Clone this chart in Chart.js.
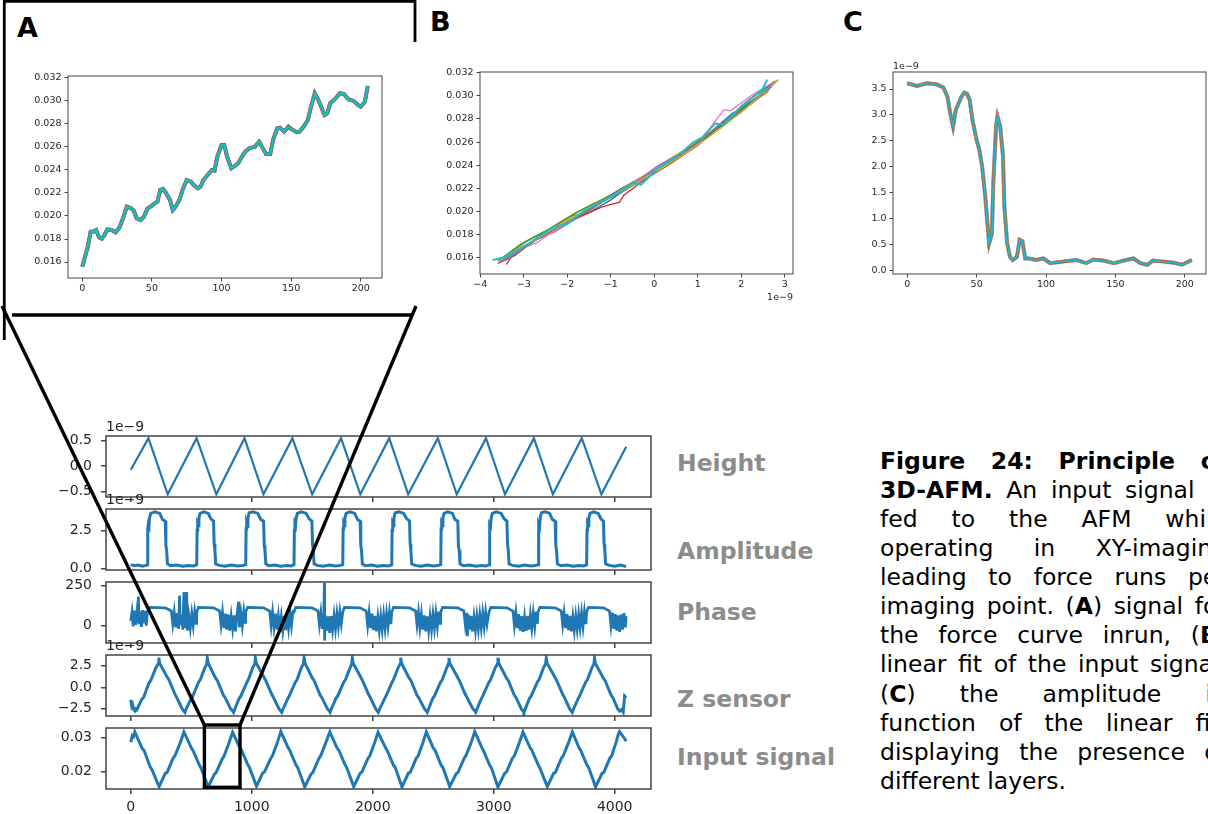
<!DOCTYPE html>
<html>
<head>
<meta charset="utf-8">
<script src="https://cdn.jsdelivr.net/npm/chart.js@4.4.1/dist/chart.umd.min.js"></script>
<style>
  body { margin: 0; background: #fff; }
  #page { position: relative; width: 1208px; height: 814px; overflow: hidden; font-family: "DejaVu Sans", sans-serif; }
  canvas { position: absolute; }
  .panel { position: absolute; font-weight: bold; font-size: 27px; line-height: 32px; color: #000; }
  .sig { position: absolute; left: 677px; font-weight: bold; font-size: 23.5px; line-height: 29px; color: #8c8c8c; white-space: nowrap; }
  .cap { position: absolute; left: 880px; top: 446.8px; font-size: 23.5px; line-height: 29.1px; color: #000; }
  .cap div { display: flex; justify-content: space-between; width: 347px; height: 29.1px; white-space: nowrap; }
  .cap div.last { display: block; }
  #lines { position: absolute; left: 0; top: 0; z-index: 10; }
</style>
</head>
<body>
<div id="page">
  <div class="panel" style="left:17px;top:11.6px">A</div>
  <div class="panel" style="left:430px;top:6.1px">B</div>
  <div class="panel" style="left:843px;top:6.1px">C</div>

  <div class="sig" style="top:448.9px">Height</div>
  <div class="sig" style="top:536.9px">Amplitude</div>
  <div class="sig" style="top:597.9px">Phase</div>
  <div class="sig" style="top:684.9px">Z sensor</div>
  <div class="sig" style="top:743.4px">Input signal</div>

  <div class="cap">
    <div style="font-weight:bold"><span>Figure</span><span>24:</span><span>Principle</span><span>of</span></div>
    <div><span><b>3D-AFM.</b></span><span>An</span><span>input</span><span>signal</span><span>is</span></div>
    <div><span>fed</span><span>to</span><span>the</span><span>AFM</span><span>while</span></div>
    <div><span>operating</span><span>in</span><span>XY-imaging</span></div>
    <div><span>leading</span><span>to</span><span>force</span><span>runs</span><span>per</span></div>
    <div><span>imaging</span><span>point.</span><span>(<b>A</b>)</span><span>signal</span><span>for</span></div>
    <div><span>the</span><span>force</span><span>curve</span><span>inrun,</span><span>(<b>B</b>)</span></div>
    <div><span>linear</span><span>fit</span><span>of</span><span>the</span><span>input</span><span>signal,</span></div>
    <div><span>(<b>C</b>)</span><span>the</span><span>amplitude</span><span>in</span></div>
    <div><span>function</span><span>of</span><span>the</span><span>linear</span><span>fit,</span></div>
    <div><span>displaying</span><span>the</span><span>presence</span><span>of</span></div>
    <div class="last">different layers.</div>
  </div>

  <svg id="lines" width="1208" height="814">
    <g stroke="#000" fill="none">
      <polyline points="4.3,340 4.3,1.3 415,1.3 415,42" stroke-width="2.8"/>
      <line x1="12" y1="315" x2="413" y2="315" stroke-width="3.3"/>
      <line x1="2" y1="306" x2="204.4" y2="725" stroke-width="3.4"/>
      <line x1="416" y1="306" x2="240" y2="725" stroke-width="3.4"/>
      <rect x="204.4" y="725" width="35.6" height="62.3" stroke-width="3.4"/>
    </g>
  </svg>
</div>

<script>
const FONT = "DejaVu Sans";
const INK = "#262626";
const SPINE = "#444";
const C0 = "#1f77b4";

// (A) input signal during one force-curve inrun: [sample, signal]
const runA = [[0,0.0156],[2,0.01646],[4,0.01733],[6,0.01864],[8,0.01864],[10,0.01878],[12,0.01815],[14,0.01803],
  [16,0.01835],[18,0.01884],[21,0.01878],[24,0.01858],[27,0.01907],[29,0.01971],[32,0.02081],[35,0.02067],
  [37,0.02046],[39,0.0198],[42,0.01965],[44,0.01989],[47,0.02067],[49,0.02081],[52,0.0211],[54,0.02124],
  [56,0.02226],[58,0.02235],[60,0.02203],[63,0.02139],[65,0.02052],[67,0.02081],[70,0.02145],[72,0.02226],
  [75,0.02313],[78,0.02298],[80,0.0227],[83,0.02241],[85,0.02255],[87,0.02313],[90,0.02357],[93,0.024],
  [95,0.02394],[97,0.02516],[100,0.02617],[102,0.02617],[104,0.02516],[107,0.02415],[109,0.02429],[112,0.02458],
  [114,0.02502],[117,0.02559],[120,0.02589],[124,0.02603],[127,0.02646],[129,0.02603],[132,0.02539],[135,0.02539],
  [137,0.02661],[140,0.02762],[142,0.02768],[145,0.02733],[148,0.02777],[150,0.02757],[154,0.02728],[156,0.02733],
  [159,0.02777],[162,0.02835],[164,0.02937],[167,0.03067],[169,0.03023],[172,0.02937],[174,0.02878],[176,0.02893],
  [178,0.0298],[182,0.03023],[185,0.03067],[188,0.0306],[191,0.03015],[195,0.03],[198,0.02965],[200,0.0295],
  [203,0.02994],[205,0.0313]];

// (B) input signal vs linear fit (x in 1e-9), one array per run
const fitRuns = [
  [[-3.55,0.0156],[-3.0,0.0173],[-2.4,0.0185],[-1.9,0.0196],[-1.5,0.0199],[-1.0,0.021],[-0.4,0.0226],[0.2,0.0241],[0.7,0.0252],[1.2,0.0266],[1.8,0.0285],[2.3,0.0296],[2.7,0.031]],
  [[-3.5,0.0158],[-2.9,0.0175],[-2.2,0.0189],[-1.6,0.0203],[-0.9,0.0216],[-0.3,0.0229],[0.3,0.0244],[0.9,0.0258],[1.5,0.0274],[2.1,0.0291],[2.6,0.0303],[2.75,0.0313]],
  [[-3.6,0.0157],[-3.1,0.0171],[-2.5,0.0183],[-1.8,0.0199],[-1.2,0.021],[-0.6,0.0223],[0.0,0.0236],[0.6,0.0249],[1.1,0.0263],[1.7,0.028],[2.2,0.0294],[2.85,0.0314]],
  [[-3.6,0.0155],[-3.2,0.0162],[-2.6,0.018],[-1.9,0.0192],[-1.2,0.0204],[-0.8,0.0208],[-0.7,0.0214],[-0.2,0.0228],[0.4,0.0242],[1.0,0.0257],[1.6,0.0277],[2.2,0.0297],[2.75,0.0312]],
  [[-3.5,0.0157],[-2.8,0.0174],[-2.3,0.0182],[-1.7,0.0196],[-1.0,0.0213],[-0.5,0.0224],[0.1,0.024],[0.8,0.0254],[1.3,0.0268],[1.9,0.0283],[2.4,0.0298],[2.8,0.0312]],
  [[-3.4,0.0154],[-3.3,0.016],[-2.7,0.0176],[-2.1,0.0188],[-1.4,0.0203],[-0.8,0.0219],[-0.1,0.0233],[0.5,0.0246],[1.1,0.0262],[1.7,0.0278],[2.2,0.0293],[2.7,0.0308]],
  [[-3.3,0.0164],[-2.7,0.0173],[-2.0,0.0191],[-1.3,0.0206],[-0.5,0.0225],[0.3,0.0243],[1.0,0.0258],[1.6,0.0288],[1.75,0.0287],[2.3,0.0302],[2.8,0.0313]],
  [[-3.4,0.0158],[-2.5,0.0181],[-1.5,0.0202],[-0.6,0.022],[0.3,0.024],[1.2,0.0265],[2.0,0.029],[2.6,0.0305]],
  [[-3.5,0.0159],[-2.9,0.0172],[-2.1,0.019],[-1.4,0.0205],[-0.7,0.0219],[0.1,0.0236],[0.8,0.0252],[1.5,0.0271],[2.1,0.0289],[2.6,0.0306],[2.85,0.0314]],
  [[-3.72,0.0158],[-3.4,0.0161],[-2.9,0.0172],[-2.3,0.0187],[-2.0,0.0189],[-1.6,0.0201],[-1.2,0.0209],[-0.8,0.0217],[-0.5,0.0225],[-0.3,0.0223],[0.1,0.0238],[0.5,0.0247],[0.9,0.026],[1.1,0.0264],[1.4,0.0276],[1.6,0.0275],[2.0,0.0291],[2.3,0.03],[2.5,0.0306],[2.6,0.0314],[2.45,0.0303],[2.7,0.0308]]
];
const fitColors = ["#1f77b4","#ff7f0e","#2ca02c","#d62728","#9467bd","#8c564b","#e377c2","#7f7f7f","#bcbd22","#17becf"];

// (C) amplitude (1e-9) vs sample of the inrun
const ampC = [[0,3.61],[7,3.56],[14,3.61],[21,3.59],[26,3.53],[29,3.35],[31,3.03],[33,2.78],[35,3.1],[37,3.22],
  [39,3.35],[41,3.43],[43,3.41],[45,3.29],[47,2.9],[50,2.52],[52,2.33],[54,2.0],[56,1.49],[58,0.85],[59,0.53],
  [61,0.72],[62,1.69],[64,2.78],[65,2.97],[67,2.78],[69,2.2],[70,1.24],[72,0.53],[74,0.27],[76,0.21],[79,0.27],
  [81,0.6],[83,0.57],[85,0.24],[88,0.24],[93,0.21],[98,0.24],[103,0.15],[112,0.18],[122,0.21],[129,0.15],
  [134,0.22],[141,0.2],[149,0.15],[156,0.2],[163,0.24],[168,0.15],[173,0.12],[177,0.2],[185,0.18],[192,0.16],
  [198,0.12],[205,0.21]];

// bottom stack, x = sample index 0..4095
const height = [[0,-0.07],[146,0.55],[305,-0.55],[544,0.55],[707,-0.55],[940,0.55],[1097,-0.55],[1336,0.55],
  [1499,-0.55],[1738,0.55],[1897,-0.55],[2136,0.55],[2293,-0.55],[2538,0.55],[2694,-0.55],[2936,0.55],
  [3093,-0.55],[3332,0.55],[3489,-0.55],[3728,0.55],[3890,-0.55],[4095,0.38]];

const amplitude = [[0,0.25],[30,0.18],[60,0.22],[95,0.15],[125,0.2],
  [137,0.25],[140,2.6],[145,2.9],[150,2.8],[155,3.3],[165,3.6],[200,3.7],[240,3.6],[262,3.2],[285,3.1],[290,1.5],[296,1.2],[303,0.3],
  [330,0.18],[380,0.22],[430,0.15],[480,0.2],[520,0.17],
  [545,0.25],[548,2.5],[553,2.9],[558,2.8],[563,3.3],[573,3.6],[605,3.7],[640,3.6],[662,3.25],[684,3.1],[689,1.6],[695,1.2],[702,0.3],
  [730,0.2],[780,0.15],[830,0.22],[880,0.17],[925,0.2],
  [950,0.25],[953,2.6],[958,2.9],[963,2.75],[968,3.3],[978,3.65],[1010,3.7],[1050,3.6],[1075,3.2],[1098,3.1],[1103,1.5],[1109,1.2],[1116,0.3],
  [1140,0.18],[1190,0.22],[1240,0.15],[1290,0.2],[1325,0.17],
  [1349,0.25],[1352,2.5],[1357,2.9],[1362,2.8],[1367,3.3],[1377,3.6],[1410,3.7],[1450,3.6],[1474,3.25],[1497,3.1],[1502,1.6],[1508,1.2],[1515,0.3],
  [1540,0.2],[1590,0.15],[1640,0.22],[1690,0.17],[1728,0.2],
  [1752,0.25],[1755,2.6],[1760,2.9],[1765,2.8],[1770,3.3],[1780,3.6],[1812,3.7],[1850,3.6],[1874,3.2],[1896,3.1],[1901,1.5],[1907,1.2],[1914,0.3],
  [1940,0.18],[1990,0.22],[2040,0.15],[2090,0.2],[2133,0.17],
  [2157,0.25],[2160,2.5],[2165,2.9],[2170,2.8],[2175,3.3],[2185,3.65],[2218,3.7],[2256,3.6],[2281,3.25],[2304,3.1],[2309,1.6],[2315,1.2],[2322,0.3],
  [2350,0.2],[2400,0.15],[2450,0.22],[2500,0.17],[2538,0.2],
  [2562,0.25],[2565,2.6],[2570,2.9],[2575,2.8],[2580,3.3],[2590,3.6],[2620,3.7],[2658,3.6],[2680,3.2],[2703,3.1],[2708,1.5],[2714,1.2],[2721,0.3],
  [2750,0.18],[2800,0.22],[2850,0.15],[2900,0.2],[2937,0.17],
  [2961,0.25],[2964,2.5],[2969,2.9],[2974,2.8],[2979,3.3],[2989,3.6],[3022,3.7],[3062,3.6],[3086,3.25],[3109,3.1],[3114,1.6],[3120,1.2],[3127,0.3],
  [3155,0.2],[3205,0.15],[3255,0.22],[3305,0.17],[3342,0.2],
  [3366,0.25],[3369,2.6],[3374,2.9],[3379,2.75],[3384,3.3],[3394,3.65],[3425,3.7],[3462,3.6],[3485,3.2],[3508,3.1],[3513,1.5],[3519,1.2],[3526,0.3],
  [3555,0.18],[3605,0.22],[3655,0.15],[3705,0.2],[3744,0.17],
  [3768,0.25],[3771,2.5],[3776,2.9],[3781,2.8],[3786,3.3],[3796,3.6],[3826,3.7],[3864,3.6],[3886,3.25],[3907,3.1],[3912,1.6],[3918,1.2],[3925,0.3],
  [3955,0.2],[4000,0.15],[4050,0.22],[4095,0.12]];

const phase = [[0,30],[10,85],[20,-5],[30,95],[40,5],[50,80],[58,20],[63,182],[68,10],[78,90],[88,-8],[98,98],[108,15],[118,92],[128,0],[137,85],
  [152,115],[285,112],[335,92],
  [347,10],[359,85],[371,-10],[383,78],[395,-20],[403,188],[410,5],[420,70],[430,-25],[439,210],[445,-15],[452,65],[462,210],[468,-30],[480,60],[492,-15],[504,75],[516,0],[528,88],[540,15],[545,85],
  [560,115],[684,112],[734,92],
  [746,5],[758,85],[770,-15],[782,75],[794,-25],[806,70],[818,-30],[830,60],[842,-20],[854,65],[866,-35],[878,70],[891,150],[898,-10],[910,80],[922,0],[934,90],[945,20],[950,85],
  [965,115],[1098,112],[1148,92],
  [1160,0],[1172,85],[1184,-10],[1196,75],[1208,-25],[1220,60],[1232,-35],[1244,55],[1256,-30],[1268,62],[1280,-28],[1292,70],[1304,-15],[1316,80],[1328,0],[1340,88],[1349,85],
  [1364,115],[1497,112],[1547,92],
  [1559,5],[1571,80],[1583,-20],[1595,70],[1600,266],[1602,-93],[1608,65],[1620,-30],[1632,58],[1644,-45],[1656,60],[1668,-25],[1680,65],[1692,-20],[1704,75],[1716,-5],[1728,85],[1740,10],[1752,85],
  [1767,115],[1896,112],[1946,92],
  [1958,0],[1970,82],[1982,-15],[1994,75],[2006,-28],[2018,62],[2030,-35],[2042,55],[2054,-30],[2066,60],[2078,-25],[2090,68],[2102,-18],[2114,75],[2126,-5],[2138,85],[2150,10],[2157,85],
  [2172,115],[2304,112],[2354,92],
  [2366,5],[2378,85],[2390,-12],[2402,72],[2414,-25],[2426,65],[2438,-35],[2450,58],[2462,-30],[2474,60],[2486,-25],[2498,70],[2510,-15],[2522,78],[2534,-5],[2546,88],[2556,15],[2562,85],
  [2577,115],[2703,112],[2753,92],
  [2765,5],[2777,80],[2783,-66],[2789,70],[2801,-25],[2813,62],[2825,-35],[2837,55],[2849,-30],[2861,60],[2873,-22],[2885,68],[2897,-15],[2909,78],[2921,-5],[2933,85],[2945,10],[2961,85],
  [2976,115],[3109,112],[3159,92],
  [3171,0],[3183,82],[3195,-15],[3207,72],[3219,-30],[3231,60],[3243,-38],[3255,55],[3267,-32],[3279,62],[3291,-25],[3303,70],[3315,-15],[3327,78],[3339,-5],[3351,88],[3361,12],[3366,85],
  [3381,115],[3508,112],[3558,92],
  [3570,5],[3582,80],[3594,-15],[3606,72],[3618,-28],[3630,62],[3642,-35],[3654,55],[3666,-30],[3678,60],[3690,-22],[3702,70],[3714,-12],[3726,80],[3738,-5],[3750,88],[3762,10],[3768,85],
  [3783,115],[3907,112],[3957,92],
  [3969,0],[3981,82],[3993,-20],[4005,72],[4017,-30],[4029,65],[4041,-38],[4053,70],[4065,-25],[4077,78],[4089,-10],[4095,60]];

const zSensor = [[0,-1.45],[8,-2.2],[15,-2.0],[25,-2.6],[33,-2.75],[42,-2.5],[50,-2.6],
  [90,-1.4],[105,-1.2],[150,0.5],[165,0.8],[205,2.2],[225,2.7],[232,3.45],[238,2.8],
  [300,1.2],[315,0.9],[365,-0.8],[380,-1.2],[425,-2.5],[439,-2.75],[447,-2.9],[455,-2.6],
  [495,-1.4],[510,-1.1],[560,0.6],[575,0.9],[610,2.2],[628,2.7],[632,3.4],[640,2.8],
  [700,1.1],[715,0.8],[765,-0.9],[780,-1.2],[825,-2.5],[841,-2.7],[850,-2.9],[858,-2.6],
  [895,-1.3],[910,-1.0],[960,0.6],[975,1.0],[1008,2.3],[1025,2.7],[1030,3.4],[1037,2.8],
  [1100,1.2],[1115,0.8],[1165,-0.8],[1180,-1.2],[1225,-2.5],[1240,-2.75],[1248,-2.9],[1256,-2.6],
  [1295,-1.4],[1310,-1.0],[1360,0.6],[1375,0.9],[1410,2.3],[1427,2.7],[1432,3.45],[1440,2.8],
  [1500,1.1],[1515,0.8],[1565,-0.9],[1580,-1.2],[1625,-2.5],[1639,-2.7],[1647,-2.9],[1655,-2.6],
  [1695,-1.3],[1710,-1.0],[1760,0.6],[1775,0.9],[1810,2.2],[1826,2.7],[1831,3.4],[1838,2.8],
  [1900,1.2],[1915,0.8],[1965,-0.8],[1980,-1.2],[2025,-2.5],[2038,-2.75],[2046,-2.9],[2054,-2.6],
  [2095,-1.4],[2110,-1.0],[2160,0.6],[2175,1.0],[2210,2.3],[2226,2.7],[2231,3.45],[2238,2.8],
  [2300,1.1],[2315,0.8],[2365,-0.9],[2380,-1.2],[2428,-2.5],[2443,-2.75],[2451,-2.9],[2459,-2.6],
  [2495,-1.3],[2510,-1.0],[2560,0.6],[2575,0.9],[2610,2.2],[2625,2.7],[2630,3.4],[2637,2.8],
  [2700,1.2],[2715,0.8],[2765,-0.8],[2780,-1.2],[2828,-2.5],[2843,-2.7],[2851,-2.9],[2859,-2.6],
  [2895,-1.4],[2910,-1.0],[2960,0.6],[2975,0.9],[3013,2.3],[3030,2.7],[3035,3.45],[3042,2.8],
  [3105,1.1],[3120,0.8],[3170,-0.9],[3185,-1.2],[3228,-2.5],[3242,-2.75],[3250,-2.9],[3258,-2.6],
  [3295,-1.3],[3310,-1.0],[3360,0.6],[3375,0.9],[3412,2.3],[3429,2.7],[3434,3.4],[3441,2.8],
  [3505,1.2],[3520,0.8],[3570,-0.8],[3585,-1.2],[3628,-2.5],[3641,-2.75],[3649,-2.9],[3657,-2.6],
  [3695,-1.4],[3710,-1.0],[3760,0.6],[3775,0.9],[3812,2.3],[3828,2.7],[3833,3.4],[3840,2.8],
  [3905,1.1],[3920,0.8],[3970,-0.9],[3985,-1.2],[4025,-2.5],[4040,-2.75],[4055,-2.6],[4070,-2.9],[4082,-1.0],[4095,-1.2]];

const inputSignal = [[0,0.0287],[12,0.0306],[22,0.0303],[33,0.0317],
  [95,0.0268],[110,0.0262],[160,0.0214],[175,0.0206],[234,0.0156],
  [285,0.0195],[300,0.0198],[350,0.024],[365,0.0247],[410,0.0286],[439,0.0317],
  [500,0.027],[515,0.0262],[565,0.0221],[580,0.0211],[640,0.0155],
  [690,0.0192],[705,0.0197],[755,0.0237],[770,0.0245],[810,0.0283],[841,0.0316],
  [900,0.0272],[915,0.0264],[965,0.0222],[980,0.0213],[1039,0.0157],
  [1090,0.0196],[1105,0.0199],[1155,0.0238],[1170,0.0246],[1210,0.0284],[1240,0.0318],
  [1300,0.0271],[1315,0.0262],[1365,0.022],[1380,0.0212],[1438,0.0155],
  [1490,0.0193],[1505,0.0198],[1555,0.0239],[1570,0.0247],[1615,0.0288],[1645,0.0317],
  [1705,0.027],[1720,0.0263],[1770,0.0221],[1785,0.0212],[1843,0.0156],
  [1895,0.0195],[1910,0.0199],[1960,0.0239],[1975,0.0246],[2015,0.0285],[2044,0.0316],
  [2105,0.0271],[2120,0.0262],[2170,0.022],[2185,0.0213],[2242,0.0155],
  [2295,0.0196],[2310,0.0198],[2360,0.024],[2375,0.0246],[2415,0.0286],[2443,0.0317],
  [2500,0.027],[2515,0.0263],[2565,0.0219],[2580,0.0212],[2636,0.0156],
  [2690,0.0194],[2705,0.0198],[2755,0.0239],[2770,0.0247],[2815,0.0287],[2843,0.0318],
  [2900,0.0272],[2915,0.0262],[2965,0.022],[2980,0.0212],[3035,0.0155],
  [3090,0.0195],[3105,0.0199],[3155,0.024],[3170,0.0246],[3212,0.0286],[3242,0.0317],
  [3300,0.0271],[3315,0.0263],[3365,0.0222],[3380,0.0212],[3443,0.0156],
  [3495,0.0195],[3510,0.0198],[3560,0.024],[3575,0.0247],[3620,0.0287],[3650,0.0317],
  [3705,0.027],[3720,0.0262],[3770,0.022],[3785,0.0212],[3842,0.0155],
  [3895,0.0195],[3910,0.0198],[3960,0.024],[3975,0.0247],[4012,0.0287],[4030,0.031],[4040,0.0318],
  [4065,0.0305],[4080,0.0298],[4095,0.029]];

// ticks
const runTicks = [0, 50, 100, 150, 200];
const runTickLabels = ["0", "50", "100", "150", "200"];
const signalTicks = [0.016, 0.018, 0.02, 0.022, 0.024, 0.026, 0.028, 0.03, 0.032];
const signalTickLabels = ["0.016", "0.018", "0.020", "0.022", "0.024", "0.026", "0.028", "0.030", "0.032"];
const fitTicks = [-4, -3, -2, -1, 0, 1, 2, 3];
const fitTickLabels = ["\u22124", "\u22123", "\u22122", "\u22121", "0", "1", "2", "3"];
const ampTicksC = [0, 0.5, 1, 1.5, 2, 2.5, 3, 3.5];
const ampTickLabelsC = ["0.0", "0.5", "1.0", "1.5", "2.0", "2.5", "3.0", "3.5"];
const sampleTicks = [0, 1000, 2000, 3000, 4000];
const sampleTickLabels = ["0", "1000", "2000", "3000", "4000"];

const frame = {
  id: "frame",
  beforeDraw(chart) {
    const { ctx, chartArea: a } = chart;
    ctx.save();
    ctx.fillStyle = "#fff";
    ctx.fillRect(a.left, a.top, a.width, a.height);
    ctx.restore();
  },
  afterDraw(chart, args, o) {
    const { ctx, chartArea: a } = chart;
    ctx.save();
    ctx.strokeStyle = SPINE;
    ctx.lineWidth = o.lw;
    ctx.strokeRect(a.left, a.top, a.width, a.height);
    if (o.offset) {
      ctx.fillStyle = INK;
      ctx.font = o.size + "px " + FONT;
      ctx.textBaseline = "alphabetic";
      if (o.offset === "right") {
        ctx.textAlign = "right";
        ctx.fillText("1e\u22129", a.right, a.bottom + o.dy);
      } else {
        ctx.textAlign = "left";
        ctx.fillText("1e\u22129", a.left, a.top - o.dy);
      }
    }
    ctx.restore();
  }
};
Chart.register(frame);

const page = document.getElementById("page");
const toXY = arr => arr.map(p => ({ x: p[0], y: p[1] }));

function axis(p, range, vals, labels, size, pad, horizontal) {
  return {
    type: "linear", min: range[0], max: range[1],
    afterBuildTicks: s => { s.ticks = vals.map(v => ({ value: v })); },
    afterFit: s => { if (horizontal) s.height = p.xH; else s.width = p.yW; },
    ticks: { autoSkip: false, maxRotation: 0, font: { family: FONT, size }, color: INK, padding: pad,
             callback: (v, i) => labels[i] },
    grid: { drawOnChartArea: false, drawTicks: true, tickLength: p.tl, color: SPINE, lineWidth: p.lw },
    border: { display: false }
  };
}

// datasets listed bottom-to-top; Chart.js paints dataset 0 last, so reverse them
function panel(p) {
  const cv = document.createElement("canvas");
  cv.width = p.w; cv.height = p.h;
  cv.style.left = p.left + "px"; cv.style.top = p.top + "px";
  page.appendChild(cv);
  const sets = p.datasets.map(d => Object.assign({ pointRadius: 0, tension: 0, fill: false }, d)).reverse();
  return new Chart(cv, {
    type: "line",
    data: { datasets: sets },
    options: {
      responsive: false, animation: false, devicePixelRatio: 1,
      layout: { padding: { left: 0, top: p.pt, right: p.pr, bottom: 0 } },
      plugins: { legend: { display: false }, tooltip: { enabled: false },
                 frame: { lw: p.lw, offset: p.offset, dy: p.offDy, size: p.fs } },
      scales: {
        x: axis(p, p.xr, p.xt, p.xl, p.fs, p.xpad, true),
        y: axis(p, p.yr, p.yt, p.yl, p.fs, p.ypad, false)
      }
    }
  });
}

// top row
panel({ left: 20, top: 60, w: 375, h: 245, yW: 48, xH: 27, pt: 16, pr: 13, fs: 9.5, tl: 3.5, lw: 1, xpad: 1.5, ypad: 3,
  xr: [-10.25, 215.25], xt: runTicks, xl: runTickLabels, yr: [0.01461, 0.03217], yt: signalTicks, yl: signalTickLabels,
  datasets: [
    { data: toXY(runA), borderColor: "#d62728", borderWidth: 4.0 },
    { data: toXY(runA), borderColor: "#9467bd", borderWidth: 3.5 },
    { data: toXY(runA), borderColor: "#2ca02c", borderWidth: 2.9 },
    { data: toXY(runA), borderColor: "#17becf", borderWidth: 2.1 }
  ] });

panel({ left: 425, top: 55, w: 380, h: 250, yW: 55, xH: 31, pt: 17, pr: 12, fs: 9.5, tl: 3.5, lw: 1, xpad: 1.5, ypad: 3,
  xr: [-4.007, 3.19], xt: fitTicks, xl: fitTickLabels, yr: [0.01459, 0.03206], yt: signalTicks, yl: signalTickLabels,
  offset: "right", offDy: 26,
  datasets: fitRuns.map((r, i) => ({ data: toXY(r), borderColor: fitColors[i], borderWidth: i === 9 ? 1.8 : 1.3 })) });

panel({ left: 840, top: 50, w: 368, h: 250, yW: 53, xH: 26, pt: 22, pr: 2, fs: 9.5, tl: 3.5, lw: 1, xpad: 1.5, ypad: 3,
  xr: [-10.25, 215.25], xt: runTicks, xl: runTickLabels, yr: [-0.058, 3.827], yt: ampTicksC, yl: ampTickLabelsC,
  offset: "left", offDy: 3.5,
  datasets: [
    { data: toXY(ampC), borderColor: "#9467bd", borderWidth: 4.0 },
    { data: toXY(ampC), borderColor: "#bcbd22", borderWidth: 3.3 },
    { data: toXY(ampC), borderColor: "#d62728", borderWidth: 2.6 },
    { data: toXY(ampC), borderColor: "#17becf", borderWidth: 1.9 }
  ] });

// bottom stack
const stack = [
  { series: height, yr: [-0.604, 0.592], yt: [-0.5, 0, 0.5], yl: ["\u22120.5", "0.0", "0.5"], offset: "left", lwSig: 2.2 },
  { series: amplitude, yr: [-0.1, 3.89], yt: [0, 2.5], yl: ["0.0", "2.5"], offset: "left", lwSig: 3.0 },
  { series: phase, yr: [-108, 273], yt: [0, 250], yl: ["0", "250"], offset: null, lwSig: 2.7 },
  { series: zSensor, yr: [-3.33, 3.76], yt: [-2.5, 0, 2.5], yl: ["\u22122.5", "0.0", "2.5"], offset: "left", lwSig: 3.0 },
  { series: inputSignal, yr: [0.0149, 0.03285], yt: [0.02, 0.03], yl: ["0.02", "0.03"], offset: null, lwSig: 3.0 }
];
const stackTops = [436, 509, 582, 655, 728];

stack.forEach((s, i) => {
  panel({ left: 30, top: stackTops[i] - 26, w: 640, h: 111, yW: 76, xH: 24, pt: 26, pr: 19, fs: 14, tl: 5, lw: 1.5,
    xpad: 5, ypad: 9, xr: [-205, 4300], xt: sampleTicks, xl: sampleTickLabels, yr: s.yr, yt: s.yt, yl: s.yl,
    offset: s.offset, offDy: 5.3,
    datasets: [{ data: toXY(s.series), borderColor: C0, borderWidth: s.lwSig }] });
});
</script>
</body>
</html>
